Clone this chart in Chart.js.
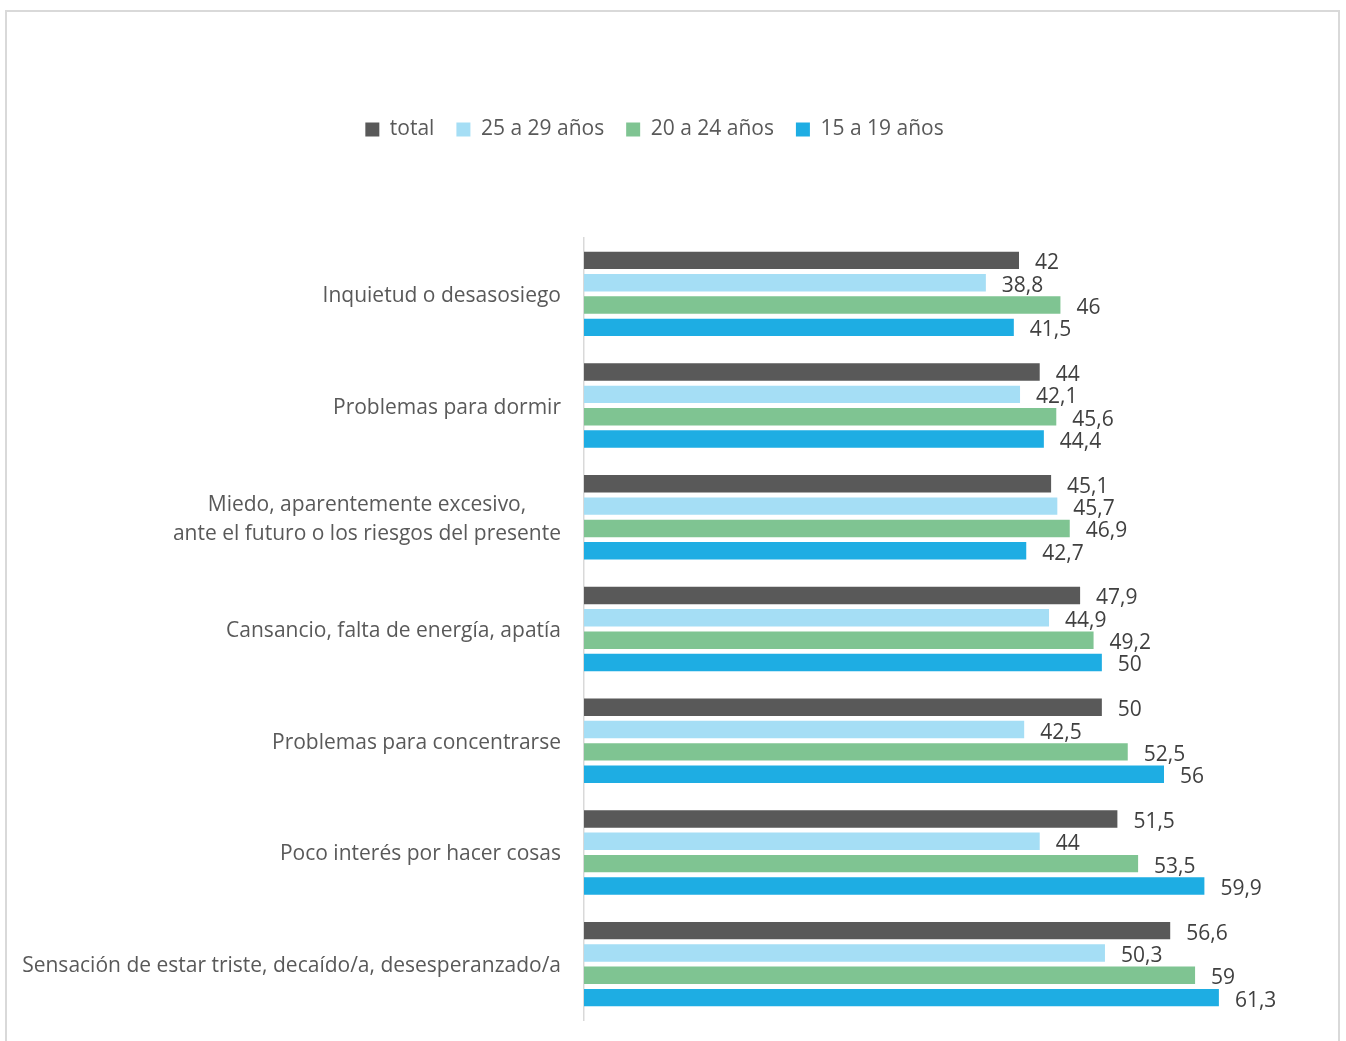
<!DOCTYPE html>
<html>
<head>
<meta charset="utf-8">
<script src="https://cdn.jsdelivr.net/npm/chart.js@4.4.1/dist/chart.umd.min.js"></script>
<style>
  html, body { margin: 0; padding: 0; background: #fff; }
  #wrap { position: relative; width: 1346px; height: 1041px; overflow: hidden; }
  #frame { position: absolute; left: 5px; top: 10px; width: 1335px; height: 1100px; border: 2px solid #d9d9d9; box-sizing: border-box; }
  canvas { position: absolute; left: 0; top: 0; }
</style>
</head>
<body>
<div id="wrap">
  <div id="frame"></div>
  <canvas id="chart" width="1346" height="1041"></canvas>
</div>
<script>
const categories = [
  "Inquietud o desasosiego",
  "Problemas para dormir",
  ["Miedo, aparentemente excesivo,", "ante el futuro o los riesgos del presente"],
  "Cansancio, falta de energía, apatía",
  "Problemas para concentrarse",
  "Poco interés por hacer cosas",
  "Sensación de estar triste, decaído/a, desesperanzado/a"
];
const seriesNames = ["total", "25 a 29 años", "20 a 24 años", "15 a 19 años"];
const total   = [42, 44, 45.1, 47.9, 50, 51.5, 56.6];
const age2529 = [38.8, 42.1, 45.7, 44.9, 42.5, 44, 50.3];
const age2024 = [46, 45.6, 46.9, 49.2, 52.5, 53.5, 59];
const age1519 = [41.5, 44.4, 42.7, 50, 56, 59.9, 61.3];
const colors = ["#595959", "#a5def5", "#7fc492", "#1eade3"];

const FONT = "'Open Sans', sans-serif";

// altura fija de la leyenda para dejar el área del gráfico donde va
const legendHeight = {
  id: 'legendHeight',
  beforeInit(chart) {
    const fit = chart.legend.fit;
    chart.legend.fit = function () {
      fit.bind(chart.legend)();
      this.height = 141;
    };
  }
};

// etiquetas de categoría, líneas centradas como en Excel
const catLabels = {
  id: 'catLabels',
  afterDraw(chart) {
    const ctx = chart.ctx;
    const y = chart.scales.y;
    ctx.save();
    ctx.font = "21px " + FONT;
    ctx.fillStyle = "#595959";
    ctx.textBaseline = "middle";
    ctx.textAlign = "center";
    const right = 561;
    const lh = 29;
    categories.forEach((lab, i) => {
      const lines = Array.isArray(lab) ? lab : [lab];
      const w = Math.max(...lines.map(l => ctx.measureText(l).width));
      const cy = y.getPixelForValue(i) + 2;
      const y0 = cy - (lines.length - 1) * lh / 2;
      lines.forEach((l, k) => ctx.fillText(l, right - w / 2, y0 + k * lh));
    });
    ctx.restore();
  }
};

// valores al final de cada barra
const valueLabels = {
  id: 'valueLabels',
  afterDatasetsDraw(chart) {
    const ctx = chart.ctx;
    ctx.save();
    ctx.font = "21px " + FONT;
    ctx.fillStyle = "#404040";
    ctx.textBaseline = "middle";
    ctx.textAlign = "left";
    chart.data.datasets.forEach((ds, di) => {
      const meta = chart.getDatasetMeta(di);
      meta.data.forEach((bar, i) => {
        const txt = String(ds.data[i]).replace(".", ",");
        ctx.fillText(txt, bar.x + 16, bar.y + 3);
      });
    });
    ctx.restore();
  }
};

new Chart(document.getElementById("chart"), {
  type: "bar",
  data: {
    labels: categories,
    datasets: [
      { label: seriesNames[0], data: total,   backgroundColor: colors[0] },
      { label: seriesNames[1], data: age2529, backgroundColor: colors[1] },
      { label: seriesNames[2], data: age2024, backgroundColor: colors[2] },
      { label: seriesNames[3], data: age1519, backgroundColor: colors[3] }
    ]
  },
  options: {
    indexAxis: "y",
    responsive: false,
    animation: false,
    categoryPercentage: 0.8,
    barPercentage: 0.78,
    layout: { padding: { top: 97, right: 37, bottom: 21, left: 0 } },
    scales: {
      x: { display: false, min: 0, max: 70 },
      y: {
        grid: { display: false },
        border: { display: true, color: "#d9d9d9", width: 1.5 },
        ticks: { display: false },
        afterFit(scale) { scale.width = 584; }
      }
    },
    plugins: {
      tooltip: { enabled: false },
      legend: {
        position: "top",
        labels: {
          boxWidth: 14,
          boxHeight: 14,
          padding: 22,
          color: "#595959",
          font: { family: FONT, size: 21 }
        }
      }
    }
  },
  plugins: [legendHeight, catLabels, valueLabels]
});
</script>
</body>
</html>
